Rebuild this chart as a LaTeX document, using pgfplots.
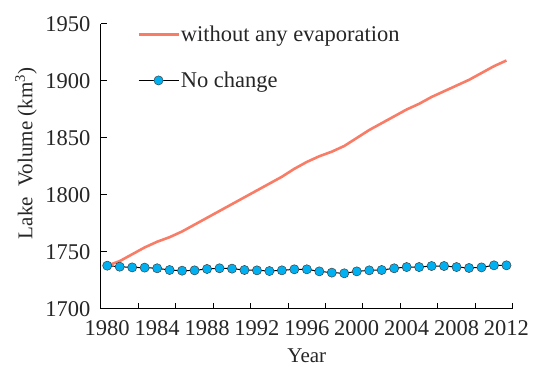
\documentclass[border=0pt]{standalone}
\usepackage{fontspec}
\setmainfont{Liberation Serif}
\usepackage{pgfplots}
\pgfplotsset{compat=1.18}
\definecolor{salmon}{HTML}{F97C66}
\definecolor{skyb}{HTML}{00B0F0}
\pgfplotstableread{
year noevap
1980 1738
1981 1742
1982 1748
1983 1754
1984 1759
1985 1763
1986 1768
1987 1774
1988 1780
1989 1786
1990 1792
1991 1798
1992 1804
1993 1810
1994 1816
1995 1823
1996 1829
1997 1834
1998 1838
1999 1843
2000 1850
2001 1857
2002 1863
2003 1869
2004 1875
2005 1880
2006 1886
2007 1891
2008 1896
2009 1901
2010 1907
2011 1913
2012 1918
}\noevap
\pgfplotstableread{
year nochange
1980 1738.0
1981 1737.1
1982 1736.5
1983 1736.3
1984 1735.7
1985 1734.2
1986 1733.6
1987 1733.9
1988 1735.1
1989 1735.7
1990 1735.4
1991 1734.2
1992 1733.9
1993 1733.3
1994 1733.9
1995 1734.8
1996 1734.8
1997 1733.0
1998 1731.9
1999 1731.3
2000 1733.0
2001 1733.9
2002 1734.2
2003 1735.7
2004 1736.8
2005 1736.8
2006 1737.7
2007 1737.7
2008 1736.8
2009 1736.0
2010 1736.5
2011 1738.3
2012 1738.3
}\nochange
\begin{document}
\begin{tikzpicture}
\begin{axis}[
  at={(0,0)}, anchor=south west,
  scale only axis, width=411.7pt, height=285pt,
  xmin=1979.5, xmax=2012.5, ymin=1700, ymax=1950,
  axis x line*=bottom, axis y line*=left,
  tick align=inside,
  major tick length=6pt,
  axis line style={line width=1pt, black},
  tick style={line width=1pt, black},
  xtick={1982.5,1985.5,...,2012.5}, xticklabels={},
  extra x ticks={1980,1984,...,2012},
  extra x tick labels={1980,1984,1988,1992,1996,2000,2004,2008,2012},
  extra x tick style={major tick length=0pt},
  ytick={1700,1750,...,1950},
  yticklabels={1700,1750,1800,1850,1900,1950},
  ticklabel style={font=\fontsize{22.5}{22.5}\selectfont, text=black!85},
  xticklabel style={yshift=-8pt},
  yticklabel style={xshift=-7pt},
  xlabel={Year},
  ylabel={Lake\ \ Volume (km\textsuperscript{3})},
  label style={font=\fontsize{21}{21}\selectfont, text=black!85},
  xlabel style={at={(axis description cs:0.5,-0.165)}, anchor=center},
  ylabel style={at={(axis description cs:-0.182,0.546)}, anchor=center},
  legend style={draw=none, fill=none, at={(rel axis cs:0.0875,0.998)}, anchor=north west,
    font=\fontsize{22.5}{22.5}\selectfont, inner sep=0pt, row sep=27pt,
    nodes={inner sep=1pt, text=black!85}},
  legend cell align=left,
  legend image code/.code={\draw[mark repeat=2,mark phase=2,#1] plot coordinates {(0pt,0pt) (20pt,0pt) (40pt,0pt)};},
]
\addplot[salmon, line width=2.6pt, no markers] table[x=year,y=noevap] {\noevap};
\addlegendentry{without any evaporation}
\addplot[black, line width=1pt, mark=*, mark size=4.6pt,
  mark options={fill=skyb, draw=black!75, line width=0.5pt}] table[x=year,y=nochange] {\nochange};
\addlegendentry{No change}
\end{axis}
\pgfresetboundingbox
\path[use as bounding box] (-101pt,-68pt) rectangle (449pt,309pt);
\end{tikzpicture}
\end{document}
